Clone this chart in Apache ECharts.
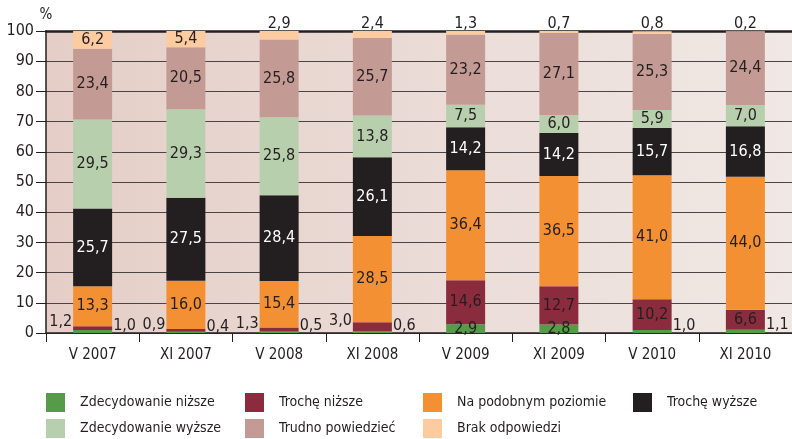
<!DOCTYPE html>
<html>
<head>
<meta charset="utf-8">
<script src="https://cdn.jsdelivr.net/npm/echarts@6/dist/echarts.min.js"></script>
<style>
  html, body { margin: 0; padding: 0; background: #fff; }
  #chart { width: 792px; height: 439px; }
</style>
</head>
<body>
<div id="chart"></div>
<script>
// kategorie (badania)
const categories = ["V 2007", "XI 2007", "V 2008", "XI 2008", "V 2009", "XI 2009", "V 2010", "XI 2010"];

// wartości w %
const zdecNizsze = [1.0, 0.4, 0.5, 0.6, 2.9, 2.8, 1.0, 1.1];
const trocheNizsze = [1.2, 0.9, 1.3, 3.0, 14.6, 12.7, 10.2, 6.6];
const naPodobnym = [13.3, 16.0, 15.4, 28.5, 36.4, 36.5, 41.0, 44.0];
const trocheWyzsze = [25.7, 27.5, 28.4, 26.1, 14.2, 14.2, 15.7, 16.8];
const zdecWyzsze = [29.5, 29.3, 25.8, 13.8, 7.5, 6.0, 5.9, 7.0];
const trudno = [23.4, 20.5, 25.8, 25.7, 23.2, 27.1, 25.3, 24.4];
const brak = [6.2, 5.4, 2.9, 2.4, 1.3, 0.7, 0.8, 0.2];

const yTicks = [0, 10, 20, 30, 40, 50, 60, 70, 80, 90, 100];

const FONT = "'Liberation Sans Narrow', 'DejaVu Sans Condensed', 'Noto Sans', sans-serif";
const TXT = "#231f20";

const fmt = (v) => v.toFixed(1).replace(".", ",");

// etykiety: małe wartości poza słupkiem
function mkData(values, small, outLabel) {
  return values.map((v) => {
    if (v < small) {
      return { value: v, label: outLabel };
    }
    return v;
  });
}

const seriesDefs = [
  {
    name: "Zdecydowanie niższe", color: "#569b48", data: zdecNizsze,
    small: 2, out: { position: "right", distance: 1, offset: [0, -6] },
  },
  {
    name: "Trochę niższe", color: "#8b2b3e", data: trocheNizsze,
    small: 4, out: { position: "left", distance: 1, offset: [0, -6] },
  },
  { name: "Na podobnym poziomie", color: "#f39033", data: naPodobnym, small: 0 },
  { name: "Trochę wyższe", color: "#231f20", data: trocheWyzsze, small: 0, labelColor: "#ffffff" },
  { name: "Zdecydowanie wyższe", color: "#b8cfad", data: zdecWyzsze, small: 0 },
  { name: "Trudno powiedzieć", color: "#c49a94", data: trudno, small: 0 },
  {
    name: "Brak odpowiedzi", color: "#fccb9f", data: brak,
    small: 4, out: { position: "top", distance: 1, offset: [0, 2] },
  },
];

const series = seriesDefs.map((d) => ({
  name: d.name,
  type: "bar",
  stack: "total",
  barWidth: 39,
  itemStyle: { color: d.color },
  label: {
    show: true,
    position: "inside",
    color: d.labelColor || TXT,
    fontFamily: FONT,
    fontSize: 16,
    formatter: (p) => fmt(p.value),
  },
  data: d.small ? mkData(d.data, d.small, d.out) : d.data,
}));

// legenda w dwóch rzędach, cztery kolumny
const legendPos = [
  [46, 393], [245, 393], [423, 393], [633, 393],
  [46, 419], [245, 419], [423, 419],
];
const legendOrder = [
  "Zdecydowanie niższe", "Trochę niższe", "Na podobnym poziomie", "Trochę wyższe",
  "Zdecydowanie wyższe", "Trudno powiedzieć", "Brak odpowiedzi",
];
const legends = legendOrder.map((name, i) => ({
  data: [name],
  left: legendPos[i][0],
  top: legendPos[i][1],
  padding: 0,
  itemWidth: 19,
  itemHeight: 19,
  icon: "rect",
  selectedMode: false,
  textStyle: {
    color: TXT,
    fontFamily: FONT,
    fontSize: 14,
    padding: [0, 0, 0, 10],
  },
}));

const option = {
  animation: false,
  backgroundColor: "#ffffff",
  legend: legends,
  grid: {
    left: 46,
    top: 31,
    width: 756,
    height: 302,
    show: true,
    borderWidth: 0,
    backgroundColor: {
      type: "linear", x: 0, y: 0, x2: 1, y2: 0,
      colorStops: [
        { offset: 0, color: "#e5cec7" },
        { offset: 1, color: "#f0e8e5" },
      ],
    },
  },
  xAxis: [
    {
      type: "category",
      data: categories,
      axisLine: { lineStyle: { color: TXT, width: 1.5 } },
      axisTick: { show: true, length: 9, lineStyle: { color: TXT, width: 1 } },
      axisLabel: { color: TXT, fontFamily: FONT, fontSize: 15, margin: 15 },
    },
    {
      type: "category",
      data: categories,
      position: "top",
      axisLine: { lineStyle: { color: TXT, width: 2.5 } },
      axisTick: { show: false },
      axisLabel: { show: false },
    },
  ],
  yAxis: {
    type: "value",
    min: yTicks[0],
    max: yTicks[yTicks.length - 1],
    interval: 10,
    name: "%",
    nameLocation: "end",
    nameGap: 8,
    nameTextStyle: { color: TXT, fontFamily: FONT, fontSize: 15 },
    axisLine: { show: true, lineStyle: { color: TXT, width: 1.5 } },
    axisTick: { show: true, length: 10, lineStyle: { color: TXT } },
    axisLabel: { color: TXT, fontFamily: FONT, fontSize: 16, margin: 12 },
    splitLine: { lineStyle: { color: "#4a4444", width: 1 } },
  },
  series: series,
};

const myChart = echarts.init(document.getElementById("chart"));
myChart.setOption(option);
</script>
</body>
</html>
